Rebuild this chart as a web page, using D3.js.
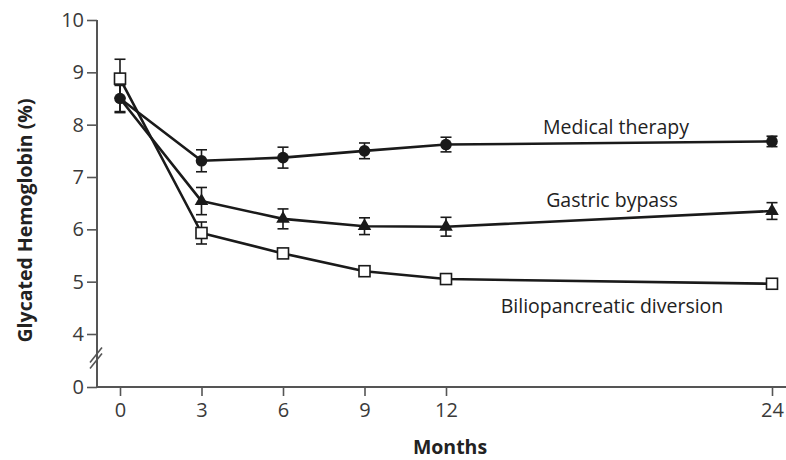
<!DOCTYPE html>
<html>
<head>
<meta charset="utf-8">
<script src="https://cdn.jsdelivr.net/npm/d3@7"></script>
<style>
  html, body { margin: 0; padding: 0; background: #fff; }
  svg { display: block; }
  text { font-family: "Open Sans", "Noto Sans", sans-serif; }
</style>
</head>
<body>
<svg id="chart" width="786" height="460"></svg>
<script>
// Months of follow-up
const months = [0, 3, 6, 9, 12, 24];

// Mean glycated hemoglobin (%) per group
const medicalMean = [8.5, 7.31, 7.37, 7.5, 7.62, 7.68];
const bypassMean  = [8.5, 6.54, 6.2, 6.06, 6.05, 6.35];
const bpdMean     = [8.88, 5.93, 5.54, 5.2, 5.05, 4.96];

// Half-width of error bars (%)
const medicalErr = [0.27, 0.21, 0.2, 0.15, 0.14, 0.1];
const bypassErr  = [0.25, 0.26, 0.19, 0.16, 0.18, 0.16];
const bpdErr     = [0.37, 0.21, 0.08, 0.05, 0.05, 0.07];

const groupNames = ["Medical therapy", "Gastric bypass", "Biliopancreatic diversion"];
const xTicks = [0, 3, 6, 9, 12, 24];
const yTicks = [0, 4, 5, 6, 7, 8, 9, 10];

const svg = d3.select("#chart");
const axisColor = "#555";
const ink = "#1a1a1a";

const x = d3.scaleLinear().domain([0, 24]).range([120, 772]);
// Broken axis: 0 sits just below 4
const y = d3.scaleLinear().domain([0, 4, 10]).range([387, 334, 20]);

const x0 = 97;   // y-axis position
const yBase = y(0);

// Axes
const yAxis = svg.append("g").attr("transform", `translate(${x0},0)`)
  .call(d3.axisLeft(y).tickValues(yTicks).tickSize(10).tickPadding(3).tickFormat(d3.format("d")));
yAxis.select(".domain").remove();
yAxis.selectAll(".tick line").attr("stroke", axisColor).attr("stroke-width", 1.6);
yAxis.selectAll(".tick text").attr("fill", "#3a3a3a").style("font-size", "20px");

svg.append("line").attr("x1", x0).attr("x2", x0).attr("y1", y(10)).attr("y2", yBase)
  .attr("stroke", axisColor).attr("stroke-width", 2);

const xAxis = svg.append("g").attr("transform", `translate(0,${yBase})`)
  .call(d3.axisBottom(x).tickValues(xTicks).tickSize(9).tickPadding(7).tickFormat(d3.format("d")));
xAxis.select(".domain").remove();
xAxis.selectAll(".tick line").attr("stroke", axisColor).attr("stroke-width", 1.6);
xAxis.selectAll(".tick text").attr("fill", "#3a3a3a").style("font-size", "20px");

svg.append("line").attr("x1", x0).attr("x2", 786).attr("y1", yBase).attr("y2", yBase)
  .attr("stroke", axisColor).attr("stroke-width", 2);

// Axis break marks
const breakY = (y(4) + y(0)) / 2 - 2;
[-3, 3].forEach(off => {
  svg.append("line")
    .attr("x1", x0 - 7).attr("y1", breakY + off + 7)
    .attr("x2", x0 + 5).attr("y2", breakY + off - 8)
    .attr("stroke", axisColor).attr("stroke-width", 1.6);
});

// Axis titles
svg.append("text")
  .attr("transform", `translate(32,${(y(10) + y(0)) / 2 + 17}) rotate(-90)`)
  .attr("text-anchor", "middle")
  .attr("fill", "#222")
  .style("font-size", "19.5px").style("font-weight", "bold")
  .text("Glycated Hemoglobin (%)");

svg.append("text")
  .attr("x", 450).attr("y", 454)
  .attr("text-anchor", "middle")
  .attr("fill", "#222")
  .style("font-size", "19.5px").style("font-weight", "bold")
  .text("Months");

const series = [
  { name: groupNames[0], mean: medicalMean, err: medicalErr, shape: "circle" },
  { name: groupNames[1], mean: bypassMean,  err: bypassErr,  shape: "triangle" },
  { name: groupNames[2], mean: bpdMean,     err: bpdErr,     shape: "square" }
];

const line = d3.line().x(d => x(d.m)).y(d => y(d.v));

// Lines
series.forEach(s => {
  const pts = months.map((m, i) => ({ m, v: s.mean[i] }));
  svg.append("path").datum(pts)
    .attr("d", line).attr("fill", "none")
    .attr("stroke", ink).attr("stroke-width", 2.6)
    .attr("stroke-linejoin", "round");
});

// Error bars
const cap = 5.5;
series.forEach(s => {
  const g = svg.append("g").attr("stroke", ink).attr("stroke-width", 1.6);
  months.forEach((m, i) => {
    const cx = x(m), top = y(s.mean[i] + s.err[i]), bot = y(s.mean[i] - s.err[i]);
    g.append("line").attr("x1", cx).attr("x2", cx).attr("y1", top).attr("y2", bot);
    g.append("line").attr("x1", cx - cap).attr("x2", cx + cap).attr("y1", top).attr("y2", top);
    g.append("line").attr("x1", cx - cap).attr("x2", cx + cap).attr("y1", bot).attr("y2", bot);
  });
});

// Markers
const tri = d3.symbol().type(d3.symbolTriangle).size(80);
series.forEach(s => {
  months.forEach((m, i) => {
    const cx = x(m), cy = y(s.mean[i]);
    if (s.shape === "circle") {
      svg.append("circle").attr("cx", cx).attr("cy", cy).attr("r", 5.8).attr("fill", ink);
    } else if (s.shape === "triangle") {
      if (m === 0) return;
      svg.append("path").attr("d", tri()).attr("transform", `translate(${cx},${cy})`).attr("fill", ink);
    } else {
      svg.append("rect").attr("x", cx - 5.5).attr("y", cy - 5.5).attr("width", 11).attr("height", 11)
        .attr("fill", "#fff").attr("stroke", ink).attr("stroke-width", 1.6);
    }
  });
});

// Group labels
const labelPos = [
  { x: 616, y: 134 },
  { x: 612, y: 207 },
  { x: 612, y: 313 }
];
series.forEach((s, i) => {
  svg.append("text")
    .attr("x", labelPos[i].x).attr("y", labelPos[i].y)
    .attr("text-anchor", "middle")
    .attr("fill", "#222")
    .style("font-size", "19.5px")
    .text(s.name);
});
</script>
</body>
</html>
